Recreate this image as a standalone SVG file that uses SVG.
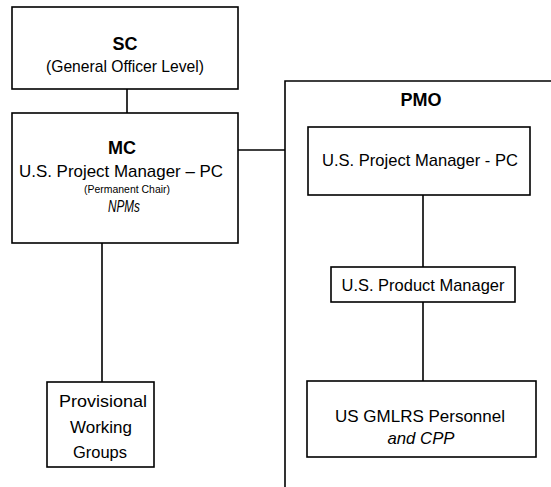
<svg xmlns="http://www.w3.org/2000/svg" width="551" height="487" viewBox="0 0 551 487">
<style>
.box{fill:#fff;stroke:#000;stroke-width:1.6}
.ln{fill:none;stroke:#000;stroke-width:1.6}
text{font-family:"Liberation Sans",Arial,sans-serif;fill:#000;text-anchor:middle}
.b{font-weight:bold;font-size:18px}
.n{font-size:17px}
.s{font-size:11px}
.i{font-style:italic;font-size:17px}
</style>
<rect width="551" height="487" fill="#fff"/>
<g id="connectors">
<line class="ln" x1="127" y1="89" x2="127" y2="113"/>
<line class="ln" x1="238" y1="150" x2="285" y2="150"/>
<line class="ln" x1="102" y1="243" x2="102" y2="382"/>
<line class="ln" x1="423" y1="195" x2="423" y2="267"/>
<line class="ln" x1="423" y1="302" x2="423" y2="381"/>
</g>
<g id="pmo">
<path class="ln" d="M551,81 H285 V487"/>
<text class="b" x="421" y="106">PMO</text>
</g>
<g id="sc">
<rect class="box" x="12" y="7" width="226" height="82"/>
<text class="b" x="125" y="50">SC</text>
<text class="n" x="125" y="72" textLength="158" lengthAdjust="spacingAndGlyphs">(General Officer Level)</text>
</g>
<g id="mc">
<rect class="box" x="12" y="113" width="226" height="130"/>
<text class="b" x="122" y="154">MC</text>
<text class="n" x="121" y="177" textLength="204" lengthAdjust="spacingAndGlyphs">U.S. Project Manager – PC</text>
<text class="s" x="127" y="193" textLength="86" lengthAdjust="spacingAndGlyphs">(Permanent Chair)</text>
<text class="i" x="124" y="212" textLength="32" lengthAdjust="spacingAndGlyphs">NPMs</text>
</g>
<g id="pwg">
<rect class="box" x="47" y="382" width="107" height="85"/>
<text class="n" x="103" y="407" textLength="88" lengthAdjust="spacingAndGlyphs">Provisional</text>
<text class="n" x="101" y="433" textLength="62" lengthAdjust="spacingAndGlyphs">Working</text>
<text class="n" x="100" y="458" textLength="54" lengthAdjust="spacingAndGlyphs">Groups</text>
</g>
<g id="pm">
<rect class="box" x="308" y="127" width="222" height="68"/>
<text class="n" x="420" y="166" textLength="196" lengthAdjust="spacingAndGlyphs">U.S. Project Manager - PC</text>
</g>
<g id="prodm">
<rect class="box" x="331" y="267" width="184" height="35"/>
<text class="n" x="423" y="291" textLength="163" lengthAdjust="spacingAndGlyphs">U.S. Product Manager</text>
</g>
<g id="gmlrs">
<rect class="box" x="307" y="381" width="229" height="76"/>
<text class="n" x="420" y="422" textLength="170" lengthAdjust="spacingAndGlyphs">US GMLRS Personnel</text>
<text class="i" x="421" y="444" textLength="67" lengthAdjust="spacingAndGlyphs">and CPP</text>
</g>
</svg>
